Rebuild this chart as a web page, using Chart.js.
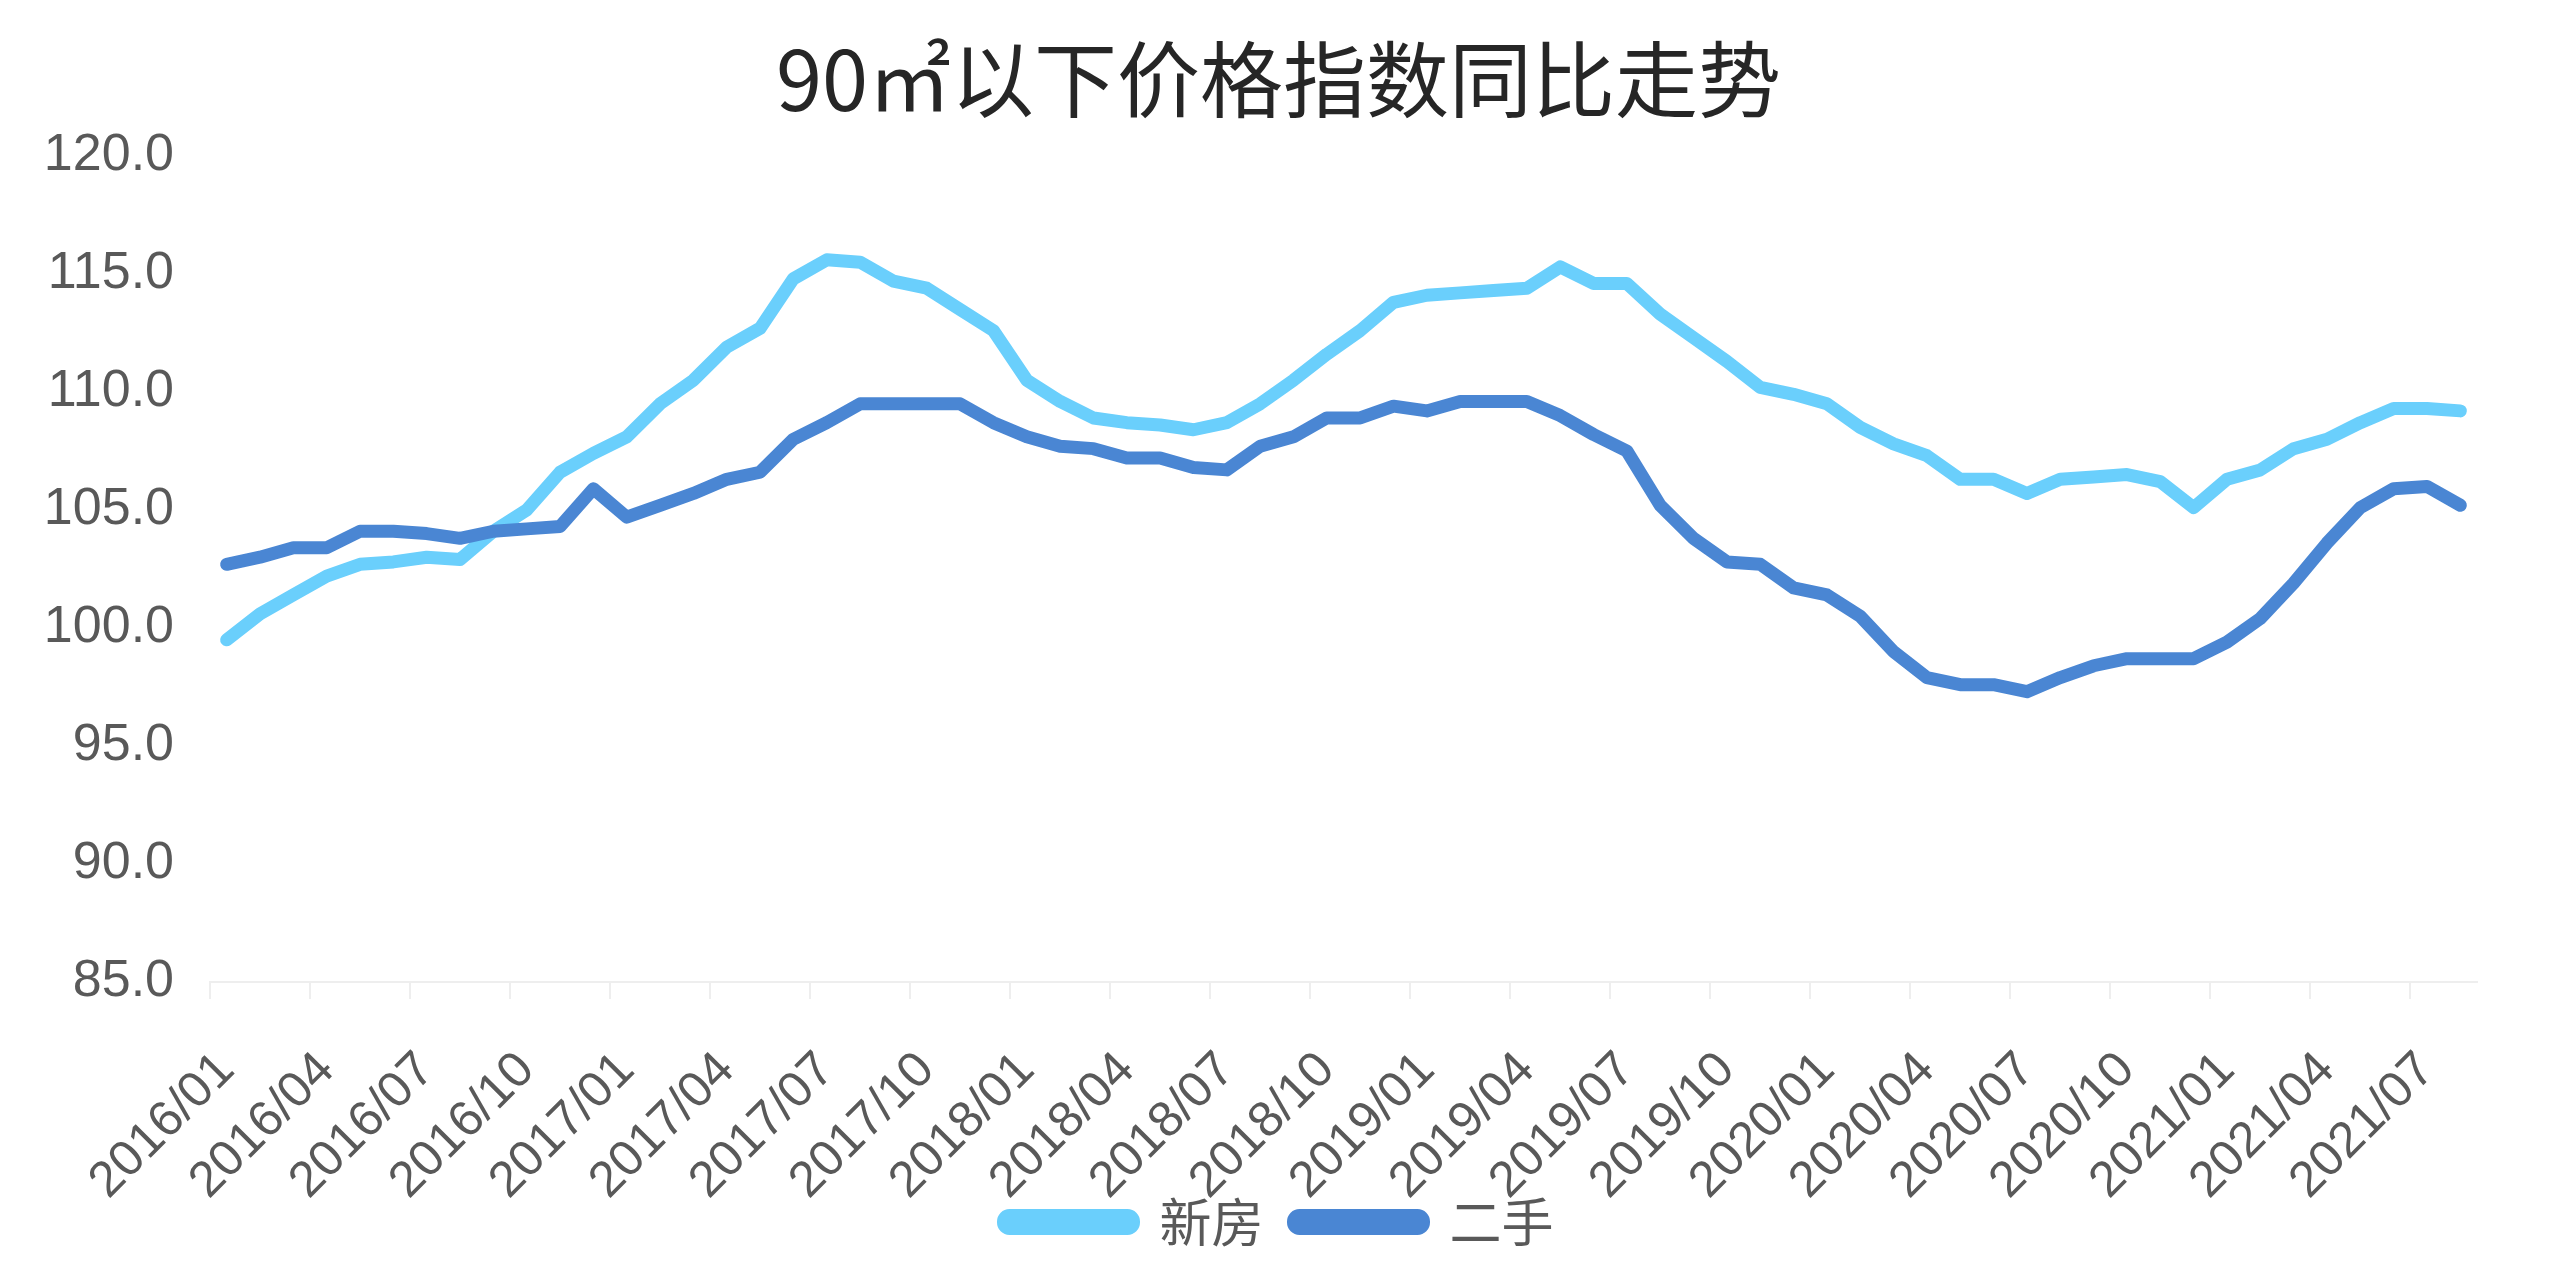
<!DOCTYPE html>
<html>
<head>
<meta charset="utf-8">
<script src="https://cdn.jsdelivr.net/npm/chart.js@4.4.1/dist/chart.umd.min.js"></script>
<style>
  html, body { margin: 0; padding: 0; background: #ffffff; }
  canvas { display: block; }
</style>
</head>
<body>
<canvas id="chart" width="2560" height="1273"></canvas>
<script>
// months on the x axis
const months = [
  '2016/01','2016/02','2016/03','2016/04','2016/05','2016/06','2016/07','2016/08','2016/09','2016/10','2016/11','2016/12',
  '2017/01','2017/02','2017/03','2017/04','2017/05','2017/06','2017/07','2017/08','2017/09','2017/10','2017/11','2017/12',
  '2018/01','2018/02','2018/03','2018/04','2018/05','2018/06','2018/07','2018/08','2018/09','2018/10','2018/11','2018/12',
  '2019/01','2019/02','2019/03','2019/04','2019/05','2019/06','2019/07','2019/08','2019/09','2019/10','2019/11','2019/12',
  '2020/01','2020/02','2020/03','2020/04','2020/05','2020/06','2020/07','2020/08','2020/09','2020/10','2020/11','2020/12',
  '2021/01','2021/02','2021/03','2021/04','2021/05','2021/06','2021/07','2021/08'
];

// 新房
const newHome = [
  99.5, 100.6, 101.4, 102.2, 102.7, 102.8, 103.0, 102.9, 104.1, 105.0, 106.6, 107.4,
  108.1, 109.5, 110.5, 111.9, 112.7, 114.8, 115.6, 115.5, 114.7, 114.4, 113.5, 112.6,
  110.5, 109.6, 108.9, 108.7, 108.6, 108.4, 108.7, 109.5, 110.5, 111.6, 112.6, 113.8,
  114.1, 114.2, 114.3, 114.4, 115.3, 114.6, 114.6, 113.3, 112.3, 111.3, 110.2, 109.9,
  109.5, 108.5, 107.8, 107.3, 106.3, 106.3, 105.7, 106.3, 106.4, 106.5, 106.2, 105.1,
  106.3, 106.7, 107.6, 108.0, 108.7, 109.3, 109.3, 109.2
];

// 二手
const resale = [
  102.7, 103.0, 103.4, 103.4, 104.1, 104.1, 104.0, 103.8, 104.1, 104.2, 104.3, 105.9,
  104.7, 105.2, 105.7, 106.3, 106.6, 108.0, 108.7, 109.5, 109.5, 109.5, 109.5, 108.7,
  108.1, 107.7, 107.6, 107.2, 107.2, 106.8, 106.7, 107.7, 108.1, 108.9, 108.9, 109.4,
  109.2, 109.6, 109.6, 109.6, 109.0, 108.2, 107.5, 105.2, 103.8, 102.8, 102.7, 101.7,
  101.4, 100.5, 99.0, 97.9, 97.6, 97.6, 97.3, 97.9, 98.4, 98.7, 98.7, 98.7,
  99.4, 100.4, 101.9, 103.6, 105.1, 105.9, 106.0, 105.2
];

const yTicks = [85, 90, 95, 100, 105, 110, 115, 120];

Chart.defaults.font.family = '"Liberation Sans", "Noto Sans CJK SC", sans-serif';
Chart.defaults.color = '#595959';

const ctx = document.getElementById('chart');

new Chart(ctx, {
  type: 'line',
  data: {
    labels: months,
    datasets: [
      {
        label: '新房',
        data: newHome,
        borderColor: '#6acffc',
        backgroundColor: '#6acffc',
        borderWidth: 13,
        pointRadius: 0,
        tension: 0,
        borderJoinStyle: 'round',
        borderCapStyle: 'round',
        order: 1
      },
      {
        label: '二手',
        data: resale,
        borderColor: '#4a86d3',
        backgroundColor: '#4a86d3',
        borderWidth: 13,
        pointRadius: 0,
        tension: 0,
        borderJoinStyle: 'round',
        borderCapStyle: 'round',
        order: 0
      }
    ]
  },
  options: {
    responsive: false,
    animation: false,
    devicePixelRatio: 1,
    layout: {
      padding: { left: 80, right: 83, top: 0, bottom: 15 }
    },
    plugins: {
      title: {
        display: true,
        text: '90㎡以下价格指数同比走势',
        color: '#262626',
        font: { size: 83, family: '"Noto Sans CJK SC", sans-serif', weight: 'normal', lineHeight: 1 },
        padding: { top: 38, bottom: 35 }
      },
      legend: {
        position: 'bottom',
        labels: {
          sort: (a, b) => a.datasetIndex - b.datasetIndex,
          boxWidth: 130,
          boxHeight: 13,
          useBorderRadius: true,
          borderRadius: 6,
          padding: 30,
          color: '#595959',
          font: { size: 52, family: '"Noto Sans CJK SC", sans-serif' }
        }
      },
      tooltip: { enabled: false }
    },
    scales: {
      x: {
        offset: true,
        afterFit: (scale) => {
          scale.height = 184;
          // rotated labels run below the axis box; do not clip them
          scale._computeLabelArea = () => undefined;
        },
        grid: {
          offset: true,
          drawOnChartArea: false,
          drawTicks: true,
          tickLength: 17,
          lineWidth: 2,
          color: (c) => (c.index % 3 === 0 ? '#eeeeee' : 'rgba(0,0,0,0)')
        },
        border: { display: true, color: '#eeeeee', width: 2 },
        ticks: {
          autoSkip: false,
          minRotation: 45,
          maxRotation: 45,
          padding: 42,
          color: '#595959',
          font: { size: 50 },
          callback: (value, index) => (index % 3 === 0 ? months[index] : '')
        }
      },
      y: {
        min: 85,
        max: 120,
        afterFit: (scale) => {
          scale.width = 130;
          // labels reach left of the axis box; do not clip them
          scale._computeLabelArea = () => undefined;
        },
        afterBuildTicks: (scale) => { scale.ticks = yTicks.map((v) => ({ value: v })); },
        grid: { display: false },
        border: { display: false },
        ticks: {
          padding: 28,
          color: '#595959',
          font: { size: 52 },
          callback: (value) => Number(value).toFixed(1)
        }
      }
    }
  }
});
</script>
</body>
</html>
